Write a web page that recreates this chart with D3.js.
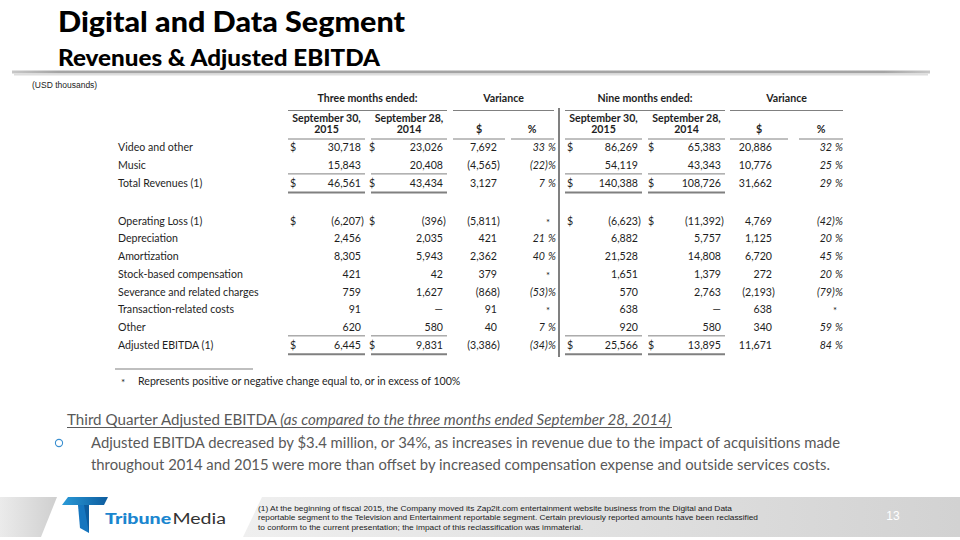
<!DOCTYPE html>
<html><head><meta charset="utf-8">
<script src="https://cdn.jsdelivr.net/npm/d3@7/dist/d3.min.js"></script>
<style>html,body{margin:0;padding:0;background:#fff}svg{display:block}</style>
</head><body><svg id="c" width="960" height="540"></svg>
<script>
// ---------- data ----------
const rowLabels = ["Video and other","Music","Total Revenues (1)","Operating Loss (1)","Depreciation","Amortization","Stock-based compensation","Severance and related charges","Transaction-related costs","Other","Adjusted EBITDA (1)"];
const q3_2015 = [30718,15843,46561,-6207,2456,8305,421,759,91,620,6445];
const q3_2014 = [23026,20408,43434,-396,2035,5943,42,1627,null,580,9831];
const q3VarDollar = [7692,-4565,3127,-5811,421,2362,379,-868,91,40,-3386];
const q3VarPct = [33,-22,7,null,21,40,null,-53,null,7,-34];
const ytd2015 = [86269,54119,140388,-6623,6882,21528,1651,570,638,920,25566];
const ytd2014 = [65383,43343,108726,-11392,5757,14808,1379,2763,null,580,13895];
const ytdVarDollar = [20886,10776,31662,4769,1125,6720,272,-2193,638,340,11671];
const ytdVarPct = [32,25,29,-42,20,45,20,-79,null,59,84];
const dollarRows = ["Video and other","Total Revenues (1)","Operating Loss (1)","Adjusted EBITDA (1)"];
const groupHeaders = ["Three months ended:","Variance","Nine months ended:","Variance"];
const colHeaders = [["September 30,","2015"],["September 28,","2014"],["$"],["%"]];
const footnoteStar = "Represents positive or negative change equal to, or in excess of 100%";
const titleText = "Digital and Data Segment";
const subtitleText = "Revenues & Adjusted EBITDA";
const unitText = "(USD thousands)";
const bodyHeading = "Third Quarter Adjusted EBITDA ";
const bodyHeadingItalic = "(as compared to the three months ended September 28, 2014)";
const bulletLines = ["Adjusted EBITDA decreased by $3.4 million, or 34%, as increases in revenue due to the impact of acquisitions made","throughout 2014 and 2015 were more than offset by increased compensation expense and outside services costs."];
const footerLines = ["(1) At the beginning of fiscal 2015, the Company moved its Zap2it.com entertainment website business from the Digital and Data","reportable segment to the Television and Entertainment reportable segment. Certain previously reported amounts have been reclassified","to conform to the current presentation; the impact of this reclassification was immaterial."];
const pageNumber = "13";

// ---------- drawing ----------
const svg = d3.select("#c");
const F = "Lato, 'Open Sans', sans-serif";
const ink = "#1e1e1e";
const rule = "#808080";

function fit(t, w){ const n=t.node(); const L=n.getComputedTextLength(); if(Math.abs(L-w)>1){ t.attr("textLength",w).attr("lengthAdjust","spacingAndGlyphs"); } return t; }

// Title
fit(svg.append("text").attr("x",58).attr("y",32).attr("font-family",F).attr("font-weight",900).attr("font-size",27.5).attr("fill","#000").text(titleText),347);
fit(svg.append("text").attr("x",58).attr("y",66).attr("font-family",F).attr("font-weight",900).attr("font-size",22).attr("fill","#000").text(subtitleText),322);
const defs = svg.append("defs");
const hg = defs.append("linearGradient").attr("id","hl").attr("x1",0).attr("x2",1);
hg.append("stop").attr("offset",0).attr("stop-color","#c8c8c8");
hg.append("stop").attr("offset",0.05).attr("stop-color","#a4a4a4");
hg.append("stop").attr("offset",0.95).attr("stop-color","#a4a4a4");
hg.append("stop").attr("offset",1).attr("stop-color","#c8c8c8");
svg.append("rect").attr("x",12).attr("y",70.5).attr("width",918).attr("height",3).attr("fill","url(#hl)");
svg.append("rect").attr("x",14).attr("y",73.5).attr("width",914).attr("height",2).attr("fill","#dedede");
svg.append("text").attr("x",32).attr("y",88).attr("font-family","'Liberation Sans', Arial, sans-serif").attr("font-size",8.5).attr("fill","#222").text(unitText);

// Table layout
const slot = i => i < 3 ? i : i + 1.15;
const y = d3.scaleLinear().domain([0,1]).range([147.5,165.2]);
const rowY = i => y(slot(i));
const fs = 10.6;
const T = svg.append("g").attr("font-family",F).attr("font-size",fs).attr("fill",ink);

const cols = [
  {v:q3_2015, r:361, d:290, c:326.5, x0:288, x1:365},
  {v:q3_2014, r:443, d:369, c:409, x0:371, x1:447},
  {v:q3VarDollar, r:497, c:479, x0:453, x1:505},
  {v:q3VarPct, r:545, pct:548, c:532, x0:511, x1:554},
  {v:ytd2015, r:638, d:567, c:603.5, x0:565, x1:642},
  {v:ytd2014, r:721, d:648, c:686.5, x0:648, x1:725},
  {v:ytdVarDollar, r:772, c:759, x0:730, x1:788},
  {v:ytdVarPct, r:832, pct:835, c:821, x0:799, x1:843}
];
const fmt = d3.format(",");
const hline = (x0,x1,yy,w) => svg.append("line").attr("x1",x0).attr("x2",x1).attr("y1",yy).attr("y2",yy).attr("stroke",rule).attr("stroke-width",w||1);

const groups = [[0,1],[2,3],[4,5],[6,7]];
groups.forEach((g,k)=>{
  const x0 = cols[g[0]].x0, x1 = cols[g[1]].x1;
  T.append("text").attr("x",(x0+x1)/2).attr("y",102).attr("text-anchor","middle").attr("font-weight",700).text(groupHeaders[k]);
  hline(x0,x1,110.5);
});
cols.forEach((c,k)=>{
  const h = colHeaders[k%4];
  h.forEach((s,j)=>{
    T.append("text").attr("x",c.c).attr("y",h.length===2?(121.5+j*11.5):133).attr("text-anchor","middle").attr("font-weight",700).text(s);
  });
  hline(c.x0,c.x1,139);
});
svg.append("line").attr("x1",559).attr("x2",559).attr("y1",108).attr("y2",357).attr("stroke",rule).attr("stroke-width",2);

rowLabels.forEach((lab,i)=>{
  const by = rowY(i)+3.8;
  T.append("text").attr("x",118).attr("y",by).text(lab);
  cols.forEach(c=>{
    const val = c.v[i];
    if(c.d!==undefined && dollarRows.includes(lab)) T.append("text").attr("x",c.d).attr("y",by).text("$");
    if(c.pct!==undefined){
      if(val===null){ T.append("text").attr("x",c.pct).attr("y",by+1).attr("text-anchor","middle").attr("font-size",9.5).text("*"); return; }
      T.append("text").attr("x",c.r).attr("y",by).attr("text-anchor","end").attr("font-style","italic").text(val<0?"("+fmt(-val):fmt(val));
      if(val<0) T.append("text").attr("x",c.r).attr("y",by).attr("font-style","italic").text(")");
      T.append("text").attr("x",c.pct).attr("y",by).attr("font-style","italic").text("%");
      return;
    }
    if(val===null){ T.append("text").attr("x",c.r).attr("y",by).attr("text-anchor","end").text("—"); return; }
    T.append("text").attr("x",c.r).attr("y",by).attr("text-anchor","end").text(val<0?"("+fmt(-val):fmt(val));
    if(val<0) T.append("text").attr("x",c.r).attr("y",by).text(")");
  });
});
const moneyCols = [0,1,4,5];
[2,10].forEach(ri=>{
  moneyCols.forEach(k=>{
    const c = cols[k];
    hline(c.x0,c.x1,rowY(ri)-9,1);
    hline(c.x0,c.x1,rowY(ri)+9.5,2);
  });
});
hline(115,253,369,1.2);
T.append("text").attr("x",121).attr("y",386).attr("font-size",10).text("*");
T.append("text").attr("x",138).attr("y",385).text(footnoteStar);

// body text
const bodyCol = "#595959";
const B = svg.append("g").attr("font-family",F).attr("font-size",14.5).attr("fill",bodyCol);
const h1 = B.append("text").attr("x",67).attr("y",425);
h1.append("tspan").text(bodyHeading);
h1.append("tspan").attr("font-style","italic").text(bodyHeadingItalic);
fit(h1,604);
svg.append("line").attr("x1",67).attr("x2",672).attr("y1",427.5).attr("y2",427.5).attr("stroke",bodyCol).attr("stroke-width",1);
svg.append("circle").attr("cx",59).attr("cy",443).attr("r",3.6).attr("fill","none").attr("stroke","#3a8fd0").attr("stroke-width",1.1);
fit(B.append("text").attr("x",91).attr("y",448).text(bulletLines[0]),749);
fit(B.append("text").attr("x",91).attr("y",469.5).text(bulletLines[1]),739);

// footer band
const fg = defs.append("linearGradient").attr("id","fg").attr("x1",0).attr("x2",1);
fg.append("stop").attr("offset",0).attr("stop-color","#efefef");
fg.append("stop").attr("offset",1).attr("stop-color","#d2d2d2");
const lg = defs.append("linearGradient").attr("id","lg").attr("x1",0).attr("x2",1);
lg.append("stop").attr("offset",0).attr("stop-color","#ebebeb");
lg.append("stop").attr("offset",1).attr("stop-color","#cfcfcf");
svg.append("polygon").attr("points","0,497 57,497 41,537 0,537").attr("fill","url(#lg)");
svg.append("polygon").attr("points","262,497 960,497 960,537 243,537").attr("fill","url(#fg)");
const bg1 = defs.append("linearGradient").attr("id","bl").attr("x1",0).attr("x2",1);
bg1.append("stop").attr("offset",0).attr("stop-color","#2a9ad8");
bg1.append("stop").attr("offset",1).attr("stop-color","#0d5c9e");
svg.append("polygon").attr("points","68,497 108,497 104,505 62,505").attr("fill","url(#bl)");
svg.append("polygon").attr("points","78,505 89,505 89,533 80,528").attr("fill","#1676bf");
svg.append("polygon").attr("points","84,505 89,505 89,533").attr("fill","#0d5c9e");
const lt = svg.append("text").attr("x",105).attr("y",523.5).attr("font-family",F).attr("font-size",15.5);
lt.append("tspan").attr("font-weight",900).attr("fill","#1b86cf").text("Tribune");
lt.append("tspan").attr("font-weight",400).attr("fill","#333").attr("dx",1).text("Media");
fit(lt,121);
const FT = svg.append("g").attr("font-family","'Liberation Sans', Arial, sans-serif").attr("font-size",7.4).attr("fill","#1a1a1a");
[474,500,325].forEach((w,j)=>fit(FT.append("text").attr("x",258).attr("y",511+j*9.3).text(footerLines[j]),w));
svg.append("text").attr("x",893).attr("y",520).attr("text-anchor","middle").attr("font-family","'Liberation Sans', Arial, sans-serif").attr("font-size",12).attr("fill","#fff").text(pageNumber);
</script></body></html>
